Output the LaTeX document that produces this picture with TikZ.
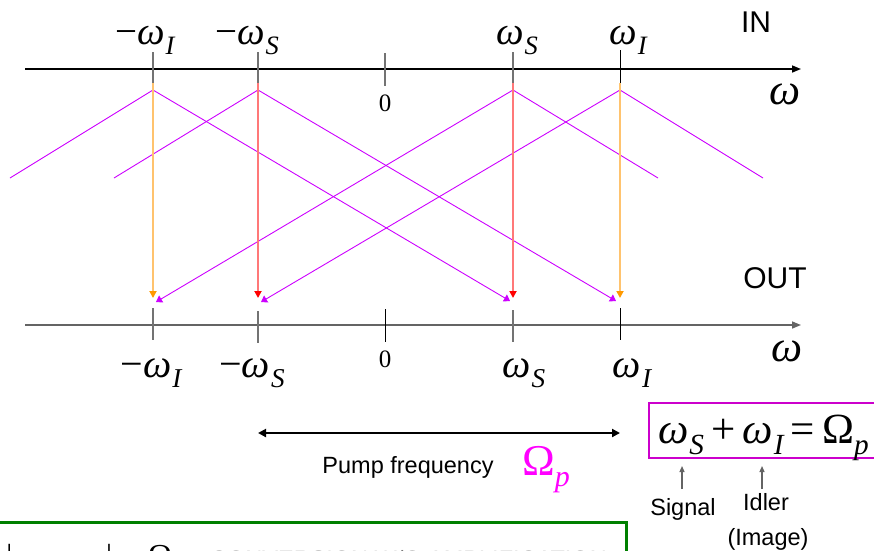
\documentclass[tikz,border=0pt]{standalone}
\usepackage{fontspec}
\setmainfont{Liberation Serif}
\setsansfont{Liberation Sans}
\usepackage{graphicx}
\usetikzlibrary{arrows.meta}

\definecolor{mag}{RGB}{204,0,255}
\definecolor{boxmag}{RGB}{204,0,204}
\definecolor{pinkmag}{RGB}{255,0,255}
\definecolor{orL}{RGB}{255,195,110}
\definecolor{orD}{RGB}{255,153,0}
\definecolor{rdL}{RGB}{255,120,120}
\definecolor{rdD}{RGB}{255,0,0}
\definecolor{tickgray}{RGB}{115,115,115}
\definecolor{axgray}{RGB}{100,100,100}
\definecolor{grn}{RGB}{0,128,0}
\definecolor{txtgray}{RGB}{120,120,120}

\newcommand{\subsc}[1]{\raisebox{-0.27em}{\scalebox{0.68}{\itshape #1}}}
\newcommand{\wsub}[1]{{\itshape ω}\kern0.02em\subsc{#1}}

\begin{document}
\begin{tikzpicture}[x=1pt,y=-1pt,
  lbltop/.style={font=\fontsize{39}{40}\selectfont, inner sep=0pt, anchor=base},
  lblbot/.style={font=\fontsize{40}{42}\selectfont, inner sep=0pt, anchor=base},
  axlbl/.style={font=\fontsize{44}{46}\selectfont\itshape, inner sep=0pt, anchor=base},
  zerolbl/.style={font=\fontsize{25}{27}\selectfont, inner sep=0pt, anchor=base},
  sflbl/.style={font=\sffamily\fontsize{30}{32}\selectfont, inner sep=0pt, anchor=base},
  smsf/.style={font=\sffamily\fontsize{23.5}{26}\selectfont, inner sep=0pt, anchor=base},
  axisline/.style={line width=1.5pt, -{Triangle[length=9pt,width=7pt]}},
  gtick/.style={draw=tickgray, line width=2pt},
  btick/.style={draw=black, line width=1pt},
  spec/.style={draw=mag, line width=0.9pt},
  specarrow/.style={draw=mag, line width=0.9pt, -{Triangle[length=6pt,width=8pt]}},
  orarrow/.style={draw=orL, line width=2pt, -{Triangle[length=7pt,width=7pt,color=orD]}},
  rdarrow/.style={draw=rdL, line width=2pt, -{Triangle[length=7pt,width=7pt,color=rdD]}},
  smallarrow/.style={draw=axgray, line width=1.2pt, -{Triangle[length=6pt,width=5pt]}}
]
\useasboundingbox (0,0) rectangle (874,550);

% ---------------- IN axis ----------------
\coordinate (ia0) at (25,69);
\coordinate (ia1) at (801,69);
\draw[axisline, black] (ia0) -- (ia1);

\coordinate (tI1) at (153,52);  \coordinate (tI2) at (153,83);
\coordinate (tS1) at (258,52);  \coordinate (tS2) at (258,83);
\coordinate (tZ1) at (385,53);  \coordinate (tZ2) at (385,86);
\coordinate (tP1) at (513,52);  \coordinate (tP2) at (513,83);
\coordinate (tQ1) at (620,50);  \coordinate (tQ2) at (620,83);
\draw[gtick] (tI1) -- (tI2);
\draw[gtick] (tS1) -- (tS2);
\draw[gtick] (tZ1) -- (tZ2);
\draw[gtick] (tP1) -- (tP2);
\draw[btick] (tQ1) -- (tQ2);

\node[lbltop] (lI) at (145,44) {−\wsub{I}};
\node[lbltop] (lS) at (247,44) {−\wsub{S}};
\node[lbltop] (lP) at (517,44) {\wsub{S}};
\node[lbltop] (lQ) at (628,44) {\wsub{I}};
\node[zerolbl] (l0) at (385,111) {0};
\node[axlbl] (lw) at (785,104) {ω};
\node[sflbl] (in) at (756,32) {IN};

% ---------------- spectra ----------------
\coordinate (aI) at (153,90);
\coordinate (aS) at (258,90);
\coordinate (aP) at (513,90);
\coordinate (aQ) at (620,90);
\coordinate (eI) at (10,178);
\coordinate (eS) at (114,178);
\coordinate (eP) at (658,178);
\coordinate (eQ) at (763,178);
\coordinate (hI) at (510,301);
\coordinate (hS) at (616,301);
\coordinate (hP) at (156,302);
\coordinate (hQ) at (261,302);

\draw[spec] (aI) -- (eI);
\draw[spec] (aS) -- (eS);
\draw[spec] (aP) -- (eP);
\draw[spec] (aQ) -- (eQ);
\draw[specarrow] (aI) -- (hI);
\draw[specarrow] (aS) -- (hS);
\draw[specarrow] (aP) -- (hP);
\draw[specarrow] (aQ) -- (hQ);

% vertical arrows
\coordinate (vI1) at (153,83); \coordinate (vI2) at (153,298);
\coordinate (vS1) at (258,83); \coordinate (vS2) at (258,298);
\coordinate (vP1) at (513,83); \coordinate (vP2) at (513,298);
\coordinate (vQ1) at (620,83); \coordinate (vQ2) at (620,298);
\draw[orarrow] (vI1) -- (vI2);
\draw[rdarrow] (vS1) -- (vS2);
\draw[rdarrow] (vP1) -- (vP2);
\draw[orarrow] (vQ1) -- (vQ2);

% ---------------- OUT axis ----------------
\coordinate (oa0) at (25,325);
\coordinate (oa1) at (801,325);
\draw[axisline, draw=axgray, fill=black] (oa0) -- (oa1);

\coordinate (bI1) at (153,308);  \coordinate (bI2) at (153,340);
\coordinate (bS1) at (258,311);  \coordinate (bS2) at (258,343);
\coordinate (bZ1) at (385,309);  \coordinate (bZ2) at (385,342);
\coordinate (bP1) at (513,310);  \coordinate (bP2) at (513,342);
\coordinate (bQ1) at (620,308);  \coordinate (bQ2) at (620,340);
\draw[gtick] (bI1) -- (bI2);
\draw[gtick] (bS1) -- (bS2);
\draw[btick] (bZ1) -- (bZ2);
\draw[gtick] (bP1) -- (bP2);
\draw[btick] (bQ1) -- (bQ2);

\node[lblbot] (mI) at (151,377) {−\wsub{I}};
\node[lblbot] (mS) at (252,377) {−\wsub{S}};
\node[lblbot] (mP) at (524,377) {\wsub{S}};
\node[lblbot] (mQ) at (632,377) {\wsub{I}};
\node[zerolbl] (m0) at (385,367) {0};
\node[axlbl] (mw) at (787,361) {ω};
\node[sflbl] (out) at (775,288) {OUT};

% ---------------- pump ----------------
\coordinate (pp0) at (258,433);
\coordinate (pp1) at (620,433);
\draw[line width=2pt, {Triangle[length=8pt,width=8pt]}-{Triangle[length=8pt,width=8pt]}] (pp0) -- (pp1);
\node[smsf] (pump) at (408,473) {Pump frequency};
\node[font=\fontsize{44}{46}\selectfont, inner sep=0pt, anchor=base, text=pinkmag] (om) at (546,475) {Ω\subsc{p}};

% relation box
\draw[draw=boxmag, line width=2pt] (649,403) rectangle (885,458);
\node[font=\fontsize{43}{46}\selectfont, inner sep=0pt, anchor=base west] (eq) at (658,443)
  {\wsub{S}\,+\,\wsub{I}\,=\,Ω\subsc{p}};

\coordinate (sa0) at (682,489); \coordinate (sa1) at (682,466);
\coordinate (ia0b) at (762,489); \coordinate (ia1b) at (762,466);
\draw[smallarrow] (sa0) -- (sa1);
\draw[smallarrow] (ia0b) -- (ia1b);
\node[smsf] (sig) at (683,515) {Signal};
\node[smsf] (idl) at (766,510) {Idler};
\node[smsf] (img) at (768,545) {(Image)};

% ---------------- green box (cropped at the picture's lower edge) ----------------
\draw[draw=grn, line width=3pt] (-5,522) rectangle (626,640);
\node[font=\fontsize{32}{34}\selectfont, inner sep=0pt, anchor=base west] (cond) at (6,566)
  {|\wsub{S}\,−\,\wsub{I}|\;=\;Ω\subsc{p}};
\node[font=\sffamily\fontsize{23.5}{26}\selectfont, inner sep=0pt, anchor=base west, text=txtgray] (conv) at (210,567)
  {CONVERSION W/O AMPLIFICATION};
\end{tikzpicture}
\end{document}
